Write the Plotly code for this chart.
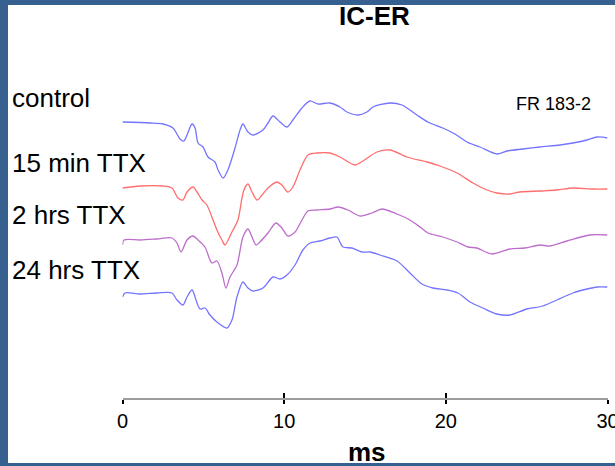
import plotly.graph_objects as go

# traces: time (ms) and amplitude (arbitrary units)
t_control = [0.0, 1.70, 2.50, 3.12, 3.56, 3.80, 3.99, 4.30, 4.49, 4.67, 4.98, 5.29, 5.72, 5.91, 6.22,
             6.52, 6.96, 7.27, 7.45, 7.76, 8.07, 8.69, 9.00, 9.31, 9.74, 10.17, 10.54, 11.10, 11.59,
             12.09, 12.83, 13.45, 13.88, 14.56, 15.12, 15.49, 16.54, 17.28, 18.21, 18.89, 19.81,
             20.56, 21.30, 22.11, 23.16, 23.78, 24.77, 25.82, 27.06, 27.86, 28.74, 29.36, 30.0]
a_control = [0, -1, -2, -6, -17, -19, -13, -2, -6, -21, -25, -35, -40, -48, -56,
             -48, -26, -8, -2, -10, -13, -8, -1, 6, 0, -5, 2, 14, 21,
             18, 19, 15, 10, 7, 10, 15, 19, 17, 7, 0, -6,
             -12, -20, -25, -32, -29, -27, -25, -23, -21, -18, -15, -16]

t_15min = [0.0, 1.08, 2.50, 3.06, 3.43, 3.74, 3.99, 4.36, 4.61, 4.92, 5.22, 5.53, 5.84, 6.15, 6.34,
           6.77, 7.14, 7.39, 7.51, 7.76, 8.01, 8.32, 8.63, 9.00, 9.55, 9.86, 10.23, 10.54, 10.98,
           11.47, 12.03, 12.83, 13.45, 14.38, 14.87, 15.74, 16.54, 17.59, 18.83, 19.64, 20.69,
           21.68, 22.54, 23.16, 23.96, 24.58, 25.82, 26.87, 27.86, 29.10, 30.0]
a_15min = [0, 2, 2, 0, -10, -12, -4, 1, -4, -12, -17, -29, -42, -52, -57,
           -44, -32, -10, -2, 4, -4, -12, -7, 0, 6, 3, -4, 1, 18,
           33, 35, 35, 31, 23, 27, 36, 38, 31, 26, 22, 15,
           5, -2, -5, -6, -4, -3, -2, 0, -1, -1]

t_2hrs = [0.0, 0.09, 1.08, 2.13, 3.06, 3.37, 3.62, 3.99, 4.36, 4.67, 5.10, 5.53, 5.84, 6.15, 6.40,
          6.65, 7.08, 7.45, 7.76, 8.01, 8.26, 8.50, 9.00, 9.49, 9.86, 10.23, 10.67, 11.10, 11.47,
          12.03, 12.83, 13.33, 13.95, 14.69, 15.43, 16.05, 16.98, 17.78, 18.40, 18.89, 19.81,
          20.69, 21.37, 21.92, 22.85, 23.96, 24.89, 25.82, 26.44, 27.49, 28.91, 30.0]
a_2hrs = [-5, 0, 0, 1, 2, -3, -12, 0, 4, 0, -7, -23, -21, -33, -48,
          -37, -25, 3, 11, 3, -5, -2, 7, 17, 12, 4, 8, 20, 29,
          30, 31, 33, 30, 24, 27, 31, 26, 20, 13, 7, 3,
          -2, -7, -8, -14, -9, -8, -5, -6, -1, 5, 5]

t_24hrs = [0.0, 0.15, 1.08, 2.13, 3.06, 3.37, 3.74, 3.99, 4.30, 4.61, 4.79, 5.10, 5.41, 5.84, 6.46,
           6.77, 7.08, 7.45, 7.76, 8.07, 8.69, 9.31, 9.74, 10.17, 10.67, 11.16, 11.60, 12.21, 12.83,
           13.26, 13.64, 14.19, 14.81, 15.31, 15.92, 16.98, 17.78, 18.52, 19.20, 20.07, 20.75,
           21.49, 22.29, 23.16, 23.96, 25.01, 26.00, 26.87, 27.86, 28.74, 29.36, 30.0]
a_24hrs = [-3, 1, 0, 1, 1, -6, -11, -3, 4, -9, -15, -14, -21, -28, -34,
           -26, -3, 12, 6, 3, 6, 17, 15, 19, 29, 44, 51, 53, 56,
           57, 47, 46, 42, 42, 39, 33, 21, 10, 6, 4, 1,
           -8, -14, -20, -21, -15, -12, -6, 1, 5, 7, 7]

labels = ["control", "15 min TTX", "2 hrs TTX", "24 hrs TTX"]
tick_vals = [0, 10, 20, 30]

# vertical stacking of the traces
offsets = [-122, -188, -240, -294]
colors = ["#7474ff", "#ff6e6e", "#bd6ecb", "#7474ff"]
series = [(t_control, a_control), (t_15min, a_15min), (t_2hrs, a_2hrs), (t_24hrs, a_24hrs)]

fig = go.Figure()
for i, ((t, a), off, c, name) in enumerate(zip(series, offsets, colors, labels)):
    fig.add_trace(go.Scatter(
        x=t, y=[off + v for v in a], mode="lines", name=name,
        line=dict(color=c, width=1.3, shape="spline", smoothing=0.8),
        xaxis="x2" if i == 0 else "x", showlegend=False, hoverinfo="skip"))

W, H = 615, 466
ml, mr, mt, mb = 8, 0, 5, 3
pw, ph = W - ml - mr, H - mt - mb
def px(x):
    return (x - ml) / pw
def py(y):
    return (H - mb - y) / ph

font = "Liberation Sans, Arial, sans-serif"
dom = [px(122.5), px(607.5)]
axpos = py(399)

fig.update_layout(
    width=W, height=H, autosize=False,
    margin=dict(l=ml, r=mr, t=mt, b=mb),
    paper_bgcolor="#36608f", plot_bgcolor="white",
    font=dict(family=font, color="black"),
    xaxis=dict(domain=dom, range=[0, 30], anchor="free", position=axpos, automargin=False,
               showgrid=False, zeroline=False, showline=True, linecolor="#9c9c9c", linewidth=1.6,
               tickvals=tick_vals, ticks="inside", ticklen=5, tickwidth=2, tickcolor="black",
               showticklabels=False),
    xaxis2=dict(domain=dom, matches="x", overlaying="x", anchor="free", position=axpos,
                automargin=False, showgrid=False, zeroline=False, showline=False,
                tickvals=tick_vals, ticks="outside", ticklen=4, tickwidth=2, tickcolor="black",
                ticklabeloverflow="allow",
                tickfont=dict(size=20, family=font, color="black")),
    yaxis=dict(domain=[0, 1], range=[-(H - mb), -mt], visible=False, automargin=False),
    shapes=[dict(type="rect", xref="paper", yref="paper", x0=0, x1=1, y0=0, y1=1,
                 fillcolor="white", line=dict(width=0), layer="below")],
)

ann = [
    ("control", 10, 98, 26, False, "left"),
    ("15 min TTX", 10, 163, 26, False, "left"),
    ("2 hrs TTX", 10, 215, 26, False, "left"),
    ("24 hrs TTX", 10, 270.5, 26, False, "left"),
    ("FR 183-2", 553, 103.5, 18, False, "center"),
    ("IC-ER", 374.5, 16, 26, True, "center"),
    ("ms", 366.5, 452, 26, True, "center"),
]
for text, x, y, size, bold, xa in ann:
    fig.add_annotation(
        text=f"<b>{text}</b>" if bold else text, xref="paper", yref="paper",
        x=px(x), y=py(y), xanchor=xa, yanchor="middle", showarrow=False,
        font=dict(size=size, family=font, color="black"))

fig.write_html("out.html", config={"displayModeBar": False},
               post_script="document.body.style.margin='0';")
